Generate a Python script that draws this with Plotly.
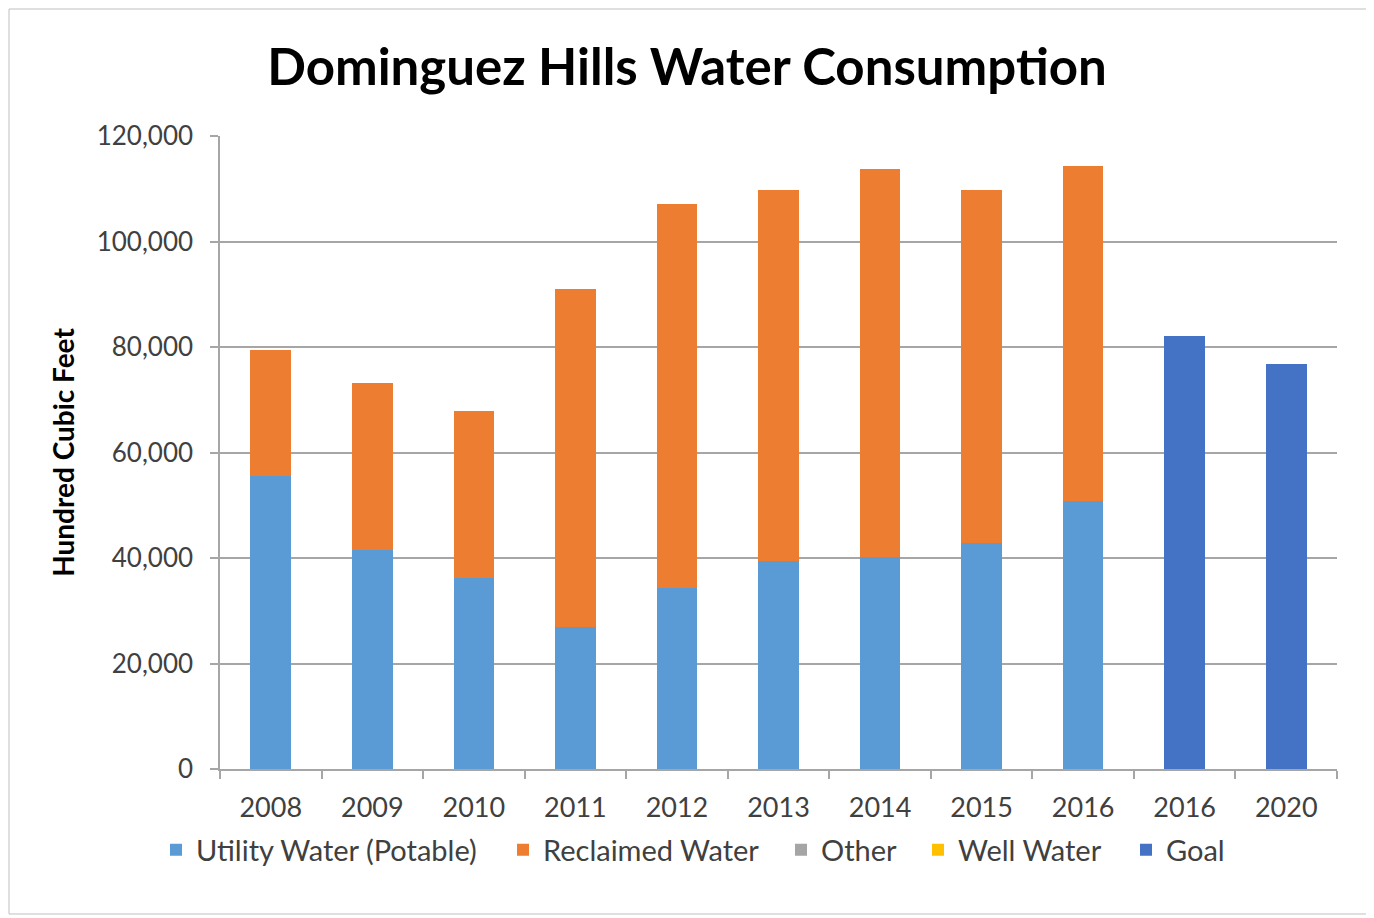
import plotly.graph_objects as go

categories = ["2008", "2009", "2010", "2011", "2012", "2013", "2014", "2015", "2016", "2016", "2020"]
years_actual = ["2008", "2009", "2010", "2011", "2012", "2013", "2014", "2015", "2016"]
utility_water = [55600, 41600, 36300, 26900, 34400, 39400, 40200, 42800, 50900]
reclaimed_water = [23900, 31600, 31600, 64100, 72700, 70400, 73500, 67000, 63400]
other_water = [0, 0, 0, 0, 0, 0, 0, 0, 0]
well_water = [0, 0, 0, 0, 0, 0, 0, 0, 0]
goal_labels = ["2016", "2020"]
goal_values = [82100, 76800]

pos_actual = list(range(len(years_actual)))
pos_goal = [len(years_actual) + i for i in range(len(goal_labels))]
all_pos = list(range(len(categories)))

FONT = "Lato, 'Open Sans', sans-serif"

# plot area in page pixels (page has an 8px body margin)
PX_L, PX_R, PX_T, PX_B = 220, 1337, 136, 769
W, H = 1366, 910
def px_x(p):
    return (p - PX_L) / (PX_R - PX_L)
def px_y(p):
    return (PX_B - p) / (PX_B - PX_T)

series = [
    ("Utility Water (Potable)", pos_actual, utility_water, "#5B9BD5", "legend", 170),
    ("Reclaimed Water", pos_actual, reclaimed_water, "#ED7D31", "legend2", 517),
    ("Other", pos_actual, other_water, "#A5A5A5", "legend3", 795),
    ("Well Water", pos_actual, well_water, "#FFC000", "legend4", 932),
    ("Goal", pos_goal, goal_values, "#4472C4", "legend5", 1140),
]

fig = go.Figure()
legends = {}
for name, xs, ys, color, lg, swatch_x in series:
    fig.add_trace(go.Bar(x=xs, y=ys, name=name, legend=lg,
                         marker=dict(color=color, line=dict(width=0))))
    legends[lg] = dict(orientation="h", x=px_x(swatch_x - 14), xanchor="left",
                       y=px_y(850), yanchor="middle", bgcolor="rgba(0,0,0,0)",
                       font=dict(size=29, color="#404040", family=FONT), itemwidth=30)

fig.update_layout(
    width=W, height=H,
    barmode="stack", bargap=0.6,
    paper_bgcolor="white", plot_bgcolor="white",
    margin=dict(l=PX_L - 8, r=W + 8 - PX_R, t=PX_T - 8, b=H + 8 - PX_B),
    font=dict(family=FONT, color="#404040"),
    title=dict(text="<b>Dominguez Hills Water Consumption</b>",
               font=dict(size=51, color="black", family=FONT),
               x=(687 - 8) / W, xanchor="center", y=1 - (67 - 8) / H, yanchor="middle",
               xref="container", yref="container"),
    showlegend=True,
    xaxis=dict(range=[-0.5, len(categories) - 0.5], tickvals=all_pos, ticktext=categories,
               ticks="", showgrid=False, showline=True, linecolor="#A6A6A6", linewidth=1.5,
               tickfont=dict(size=27, color="#404040"), ticklabelstandoff=14,
               minor=dict(tickvals=[p - 0.5 for p in all_pos] + [len(categories) - 0.5],
                          ticks="outside", ticklen=8, tickcolor="#A6A6A6", tickwidth=1.5,
                          showgrid=False),
               zeroline=False),
    yaxis=dict(range=[0, 120000], dtick=20000, tickformat=",d",
               showgrid=True, gridcolor="#A6A6A6", gridwidth=1.5,
               showline=True, linecolor="#A6A6A6", linewidth=1.5,
               ticks="outside", ticklen=8, tickcolor="#A6A6A6", tickwidth=1.5,
               tickfont=dict(size=26, color="#404040"), ticklabelstandoff=12,
               zeroline=False,
               title=dict(text="<b>Hundred Cubic Feet</b>", font=dict(size=28, color="black"),
                          standoff=14)),
    **legends,
)

# chart border
fig.add_shape(type="rect", xref="paper", yref="paper",
              x0=px_x(9), x1=px_x(1369), y0=px_y(914), y1=px_y(9),
              line=dict(color="#BFBFBF", width=1), fillcolor="rgba(0,0,0,0)", layer="below")

fig.write_html("out.html")
